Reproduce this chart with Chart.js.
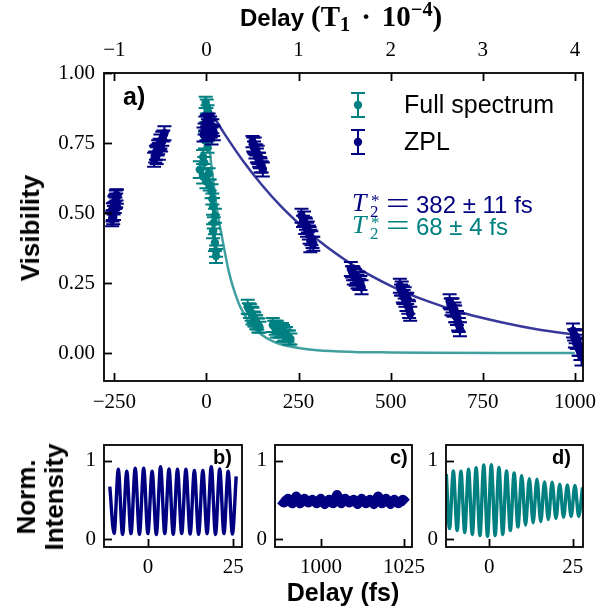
<!DOCTYPE html>
<html><head><meta charset="utf-8">
<script src="https://cdn.jsdelivr.net/npm/chart.js@4.4.1/dist/chart.umd.min.js"></script>
<style>
html,body{margin:0;padding:0;background:#fff;}
#wrap{position:relative;width:602px;height:609px;overflow:hidden;background:#fff;}
canvas{position:absolute;left:0;top:0;}
.t{position:absolute;white-space:nowrap;line-height:1;color:#000;}
.sans{font-family:"Liberation Sans",Arial,sans-serif;}
.serif{font-family:"Liberation Serif","Times New Roman",serif;}
.b{font-weight:bold;}
.sb{font-size:0.7em;position:relative;top:0.25em;}
.sp{font-size:0.7em;position:relative;top:-0.5em;}
.eq{transform:scaleX(1.35);transform-origin:left center;}
</style></head>
<body><div id="wrap">
<canvas id="cMain" width="602" height="609" style="width:602px;height:609px"></canvas>
<canvas id="cB" width="602" height="609" style="width:602px;height:609px"></canvas>
<canvas id="cC" width="602" height="609" style="width:602px;height:609px"></canvas>
<canvas id="cD" width="602" height="609" style="width:602px;height:609px"></canvas>

<div class="t sans b" style="left:240px;top:6px;font-size:24px;">Delay</div>
<div class="t serif b" style="left:311px;top:2px;font-size:29px;">(T<span class="sb">1</span><span style="margin:0 0.38em;">·</span>10<span class="sp">−4</span>)</div>
<div class="t sans b" style="left:30px;top:228px;transform:translate(-50%,-50%) rotate(-90deg);font-size:26px;">Visibility</div>
<div class="t sans b" style="left:123px;top:84px;font-size:25px;">a)</div>
<div class="t sans" style="left:404px;top:92px;font-size:25px;">Full spectrum</div>
<div class="t sans" style="left:404px;top:129px;font-size:25px;">ZPL</div>

<div class="t serif" style="left:352px;top:190px;font-size:26px;font-style:italic;color:#000080;">T</div>
<div class="t serif" style="left:371px;top:192px;font-size:17px;color:#000080;">*</div>
<div class="t serif" style="left:370px;top:203px;font-size:17px;color:#000080;">2</div>
<div class="t serif eq" style="left:386px;top:188px;font-size:31px;color:#000080;">=</div>
<div class="t sans" style="left:416px;top:193px;font-size:24px;color:#000080;">382 ± 11 fs</div>

<div class="t serif" style="left:352px;top:212px;font-size:26px;font-style:italic;color:#008080;">T</div>
<div class="t serif" style="left:371px;top:214px;font-size:17px;color:#008080;">*</div>
<div class="t serif" style="left:370px;top:225px;font-size:17px;color:#008080;">2</div>
<div class="t serif eq" style="left:386px;top:210px;font-size:31px;color:#008080;">=</div>
<div class="t sans" style="left:416px;top:215px;font-size:24px;color:#008080;">68 ± 4 fs</div>

<div class="t sans b" style="left:40px;top:497px;transform:translate(-50%,-50%) rotate(-90deg);font-size:26px;line-height:28px;text-align:center;">Norm.<br>Intensity</div>
<div class="t sans b" style="left:213px;top:447px;font-size:20px;">b)</div>
<div class="t sans b" style="left:390px;top:447px;font-size:20px;">c)</div>
<div class="t sans b" style="left:552px;top:447px;font-size:20px;">d)</div>
<div class="t sans b" style="left:343px;top:580px;transform:translateX(-50%);font-size:25px;">Delay (fs)</div>
</div>
<script>
// ---------------- DATA ----------------
const xTicksMain = [-250, 0, 250, 500, 750, 1000];
const yTicksMain = [0, 0.25, 0.5, 0.75, 1.0];
const topTicks = [-1, 0, 1, 2, 3, 4];
const fsPerTopUnit = 250;

const zplX = [
 -256,-255,-254,-253,-252,-251,-250,-249,-248,-247,-246,-245,-244,-243,
 -142,-139,-137,-135,-133,-131,-129,-127,-125,-123,-120,-117,-114,
 -8,-5,-3,0,2,4,6,8,10,12,14,16,18,20,
 125,127,129,131,133,135,137,139,141,143,145,147,150,153,
 258,262,265,268,270,273,275,278,280,282,285,288,290,
 392,395,398,400,403,405,408,410,413,415,418,421,
 525,528,530,533,535,538,540,543,545,548,550,553,
 660,663,665,668,670,673,675,678,680,683,685,688,
 995,998,1000,1002,1005,1007,1010,1012,1015,1018];
const zplY = [
 0.478,0.490,0.505,0.485,0.515,0.500,0.530,0.520,0.540,0.535,0.550,0.545,0.565,0.558,
 0.690,0.700,0.715,0.705,0.725,0.735,0.720,0.745,0.755,0.740,0.765,0.775,0.785,
 0.780,0.800,0.820,0.790,0.830,0.810,0.835,0.800,0.820,0.790,0.775,0.810,0.795,0.785,
 0.755,0.745,0.735,0.740,0.720,0.725,0.705,0.710,0.695,0.690,0.680,0.670,0.665,0.655,
 0.490,0.470,0.480,0.455,0.460,0.440,0.450,0.430,0.420,0.400,0.410,0.395,0.390,
 0.300,0.290,0.285,0.275,0.280,0.265,0.270,0.255,0.260,0.245,0.250,0.235,
 0.240,0.225,0.230,0.210,0.200,0.215,0.190,0.180,0.195,0.165,0.155,0.140,
 0.185,0.175,0.165,0.170,0.150,0.155,0.140,0.130,0.125,0.110,0.100,0.085,
 0.080,0.065,0.050,0.060,0.035,0.040,0.020,0.010,0.000,-0.015];
const zplErr = [
 0.025,0.020,0.030,0.025,0.020,0.025,0.030,0.020,0.025,0.020,0.030,0.025,0.020,0.025,
 0.025,0.020,0.025,0.030,0.020,0.025,0.030,0.020,0.025,0.020,0.025,0.020,0.025,
 0.025,0.020,0.025,0.030,0.020,0.025,0.020,0.030,0.025,0.020,0.030,0.025,0.020,0.025,
 0.020,0.025,0.020,0.030,0.025,0.020,0.025,0.030,0.020,0.025,0.020,0.025,0.020,0.025,
 0.025,0.020,0.025,0.030,0.020,0.025,0.020,0.025,0.030,0.040,0.025,0.020,0.025,
 0.025,0.020,0.025,0.030,0.020,0.025,0.020,0.025,0.030,0.020,0.025,0.025,
 0.025,0.020,0.025,0.030,0.025,0.020,0.025,0.030,0.020,0.025,0.030,0.025,
 0.025,0.020,0.030,0.025,0.020,0.025,0.030,0.020,0.025,0.030,0.025,0.025,
 0.025,0.020,0.030,0.025,0.020,0.025,0.030,0.020,0.025,0.030];

const fullX = [
 -2,1,3,0,-4,3,-9,-6,-18,-9,6,0,9,14,16,18,23,20,18,23,26,26,
 112,115,118,120,123,125,128,130,133,135,138,141,144,
 180,184,188,191,195,198,202,205,208,212,216,220,224,228];
const fullY = [
 0.895,0.880,0.865,0.850,0.760,0.735,0.700,0.680,0.655,0.630,0.640,0.613,0.600,0.578,0.550,0.524,0.490,0.465,0.435,0.394,0.364,0.346,
 0.165,0.158,0.150,0.145,0.140,0.132,0.128,0.120,0.115,0.110,0.104,0.098,0.092,
 0.100,0.095,0.090,0.085,0.088,0.080,0.075,0.082,0.070,0.065,0.068,0.060,0.055,0.050];
const fullErr = [
 0.020,0.025,0.020,0.025,0.030,0.020,0.025,0.020,0.030,0.025,0.020,0.025,0.020,0.025,0.020,0.030,0.025,0.020,0.025,0.030,0.020,0.025,
 0.025,0.020,0.025,0.020,0.025,0.030,0.020,0.025,0.020,0.025,0.020,0.025,0.020,
 0.025,0.020,0.025,0.030,0.020,0.025,0.020,0.025,0.030,0.020,0.025,0.020,0.025,0.020];

const zplFitX = [0, 25, 50, 100, 150, 200, 250, 300, 400, 500, 600, 700, 800, 900, 1000];
const zplFitY = [0.890, 0.833, 0.781, 0.685, 0.601, 0.527, 0.463, 0.406, 0.312, 0.240, 0.185, 0.142, 0.110, 0.084, 0.065];
const fullFitX = [0, 10, 20, 30, 40, 50, 60, 70, 80, 90, 100, 125, 150, 175, 200, 250, 300, 400, 500, 600, 800, 1000];
const fullFitY = [0.860, 0.710, 0.600, 0.500, 0.430, 0.360, 0.295, 0.245, 0.205, 0.170, 0.145, 0.095, 0.065, 0.045, 0.032, 0.018, 0.010, 0.004, 0.002, 0.001, 0.000, 0.000];

// subplot b (ZPL interferogram near zero delay)
const bX = [-11.2,-9.94,-8.70,-7.46,-6.22,-4.98,-3.74,-2.50,-1.26,-0.02,1.22,2.46,3.70,4.94,6.18,7.42,8.66,9.90,11.14,12.38,13.62,14.86,16.10,17.34,18.58,19.82,21.06,22.30,23.54,24.78,25.90];
const bY = [0.67,0.07,0.89,0.06,0.865,0.07,0.905,0.06,0.905,0.07,0.865,0.06,0.925,0.07,0.895,0.06,0.89,0.07,0.89,0.065,0.875,0.06,0.875,0.07,0.925,0.06,0.895,0.07,0.865,0.065,0.80];
// subplot c (ZPL interferogram near 1000 fs)
const cX = [987.6,988.8,990.0,991.3,992.5,993.7,995.0,996.2,997.4,998.7,999.9,1001.1,1002.4,1003.6,1004.8,1006.1,1007.3,1008.5,1009.8,1011.0,1012.2,1013.5,1014.7,1015.9,1017.2,1018.4,1019.6,1020.9,1022.1,1023.3,1024.6,1025.8];
const cY = [0.50,0.46,0.52,0.45,0.55,0.45,0.52,0.46,0.51,0.45,0.52,0.44,0.51,0.45,0.57,0.45,0.52,0.46,0.51,0.44,0.52,0.45,0.51,0.44,0.55,0.45,0.52,0.44,0.51,0.45,0.51,0.46];
// subplot d (full spectrum interferogram near zero delay)
const dX = [-12.9,-11.94,-10.80,-9.66,-8.52,-7.38,-6.24,-5.10,-3.96,-2.82,-1.68,-0.54,0.60,1.74,2.88,4.02,5.16,6.30,7.44,8.58,9.72,10.86,12.00,13.14,14.28,15.42,16.56,17.70,18.84,19.98,21.12,22.26,23.40,24.54,25.68,26.82,27.96];
const dY = [0.83,0.135,0.87,0.11,0.865,0.085,0.89,0.06,0.91,0.045,0.945,0.035,0.95,0.045,0.915,0.06,0.87,0.11,0.845,0.155,0.81,0.18,0.77,0.21,0.765,0.225,0.73,0.25,0.725,0.265,0.70,0.28,0.69,0.29,0.685,0.29,0.66];
const subXTicksB = [0, 25];
const subXTicksC = [1000, 1025];
const subXTicksD = [0, 25];
const subYTicks = [0, 1];

// ---------------- STYLE / HELPERS ----------------
const NAVY = '#000080', TEAL = '#008080';
const SERIF = "'Liberation Serif','Times New Roman',serif";
const pts = (xs, ys) => xs.map((x, i) => ({x: x, y: ys[i]}));
const minus = v => String(v).replace('-', '\u2212');

const frameTicks = {
  id: 'frameTicks',
  afterDraw(chart) {
    const {ctx, chartArea: a} = chart;
    ctx.save();
    ctx.strokeStyle = '#000'; ctx.lineWidth = 1.8; ctx.lineCap = 'butt';
    const L = 8;
    Object.values(chart.scales).forEach(s => {
      s.ticks.forEach(t => {
        const p = Math.round(s.getPixelForValue(t.value)) + 0.5;
        ctx.beginPath();
        if (s.position === 'left') { ctx.moveTo(a.left, p); ctx.lineTo(a.left + L, p); }
        else if (s.position === 'bottom') { ctx.moveTo(p, a.bottom); ctx.lineTo(p, a.bottom - L); }
        else if (s.position === 'top') { ctx.moveTo(p, a.top); ctx.lineTo(p, a.top + L); }
        ctx.stroke();
      });
    });
    ctx.strokeRect(a.left, a.top, a.right - a.left, a.bottom - a.top);
    ctx.restore();
  }
};

const errorBars = {
  id: 'errorBars',
  beforeDatasetDraw(chart, args) {
    const ds = chart.data.datasets[args.index];
    if (!ds.errors) return;
    const xs = chart.scales.x, ys = chart.scales.y, ctx = chart.ctx, a = chart.chartArea;
    ctx.save();
    ctx.beginPath(); ctx.rect(a.left, a.top, a.right - a.left, a.bottom - a.top); ctx.clip();
    ctx.strokeStyle = ds.borderColor; ctx.lineWidth = 2;
    const cap = 7;
    ds.data.forEach((d, i) => {
      const e = ds.errors[i];
      const px = xs.getPixelForValue(d.x);
      const y1 = ys.getPixelForValue(d.y - e), y2 = ys.getPixelForValue(d.y + e);
      ctx.beginPath();
      ctx.moveTo(px, y1); ctx.lineTo(px, y2);
      ctx.moveTo(px - cap, y1); ctx.lineTo(px + cap, y1);
      ctx.moveTo(px - cap, y2); ctx.lineTo(px + cap, y2);
      ctx.stroke();
    });
    ctx.restore();
  }
};

const legendGlyphs = {
  id: 'legendGlyphs',
  afterDraw(chart) {
    const ctx = chart.ctx;
    const items = [[chart.data.datasets[1].borderColor, 105], [chart.data.datasets[0].borderColor, 142]];
    ctx.save();
    items.forEach(([c, y]) => {
      const x = 358;
      ctx.strokeStyle = c; ctx.fillStyle = c; ctx.lineWidth = 2;
      ctx.beginPath();
      ctx.moveTo(x, y - 12); ctx.lineTo(x, y + 12);
      ctx.moveTo(x - 7, y - 12); ctx.lineTo(x + 7, y - 12);
      ctx.moveTo(x - 7, y + 12); ctx.lineTo(x + 7, y + 12);
      ctx.stroke();
      ctx.beginPath(); ctx.arc(x, y, 4.2, 0, Math.PI * 2); ctx.fill();
    });
    ctx.restore();
  }
};

function axis(pos, min, max, tickVals, fmt, padding, size) {
  return {
    type: 'linear', position: pos, min: min, max: max,
    afterBuildTicks: s => { s.ticks = tickVals.map(v => ({value: v})); },
    afterFit: s => {
      if (pos === 'left' || pos === 'right') s.width = size; else s.height = size;
      s.paddingLeft = 0; s.paddingRight = 0; s.paddingTop = 0; s.paddingBottom = 0;
    },
    grid: {display: false, drawTicks: false},
    border: {display: false},
    ticks: {autoSkip: false, maxRotation: 0, minRotation: 0, padding: padding, color: '#000',
            font: {family: SERIF, size: 21}, callback: fmt}
  };
}

Chart.defaults.font.family = SERIF;

const commonOpts = (padding) => ({
  responsive: false, animation: false, devicePixelRatio: 1,
  layout: {padding: padding},
  plugins: {legend: {display: false}, tooltip: {enabled: false}}
});

// ---------------- MAIN CHART ----------------
const xMin = -278, xMax = 1022;
new Chart(document.getElementById('cMain'), {
  type: 'scatter',
  data: {datasets: [
    {label: 'ZPL', data: pts(zplX, zplY), errors: zplErr, borderColor: NAVY, backgroundColor: NAVY,
     pointRadius: 4.2, pointBorderWidth: 0, showLine: false, order: 0, clip: 0},
    {label: 'Full spectrum', data: pts(fullX, fullY), errors: fullErr, borderColor: TEAL, backgroundColor: TEAL,
     pointRadius: 4.2, pointBorderWidth: 0, showLine: false, order: 1, clip: 0},
    {label: 'ZPL fit', data: pts(zplFitX, zplFitY), borderColor: 'rgba(0,0,128,0.78)', borderWidth: 2.5,
     pointRadius: 0, showLine: true, cubicInterpolationMode: 'monotone', order: 2, clip: 0},
    {label: 'Full fit', data: pts(fullFitX, fullFitY), borderColor: 'rgba(0,128,128,0.75)', borderWidth: 2.5,
     pointRadius: 0, showLine: true, cubicInterpolationMode: 'monotone', order: 3, clip: 0}
  ]},
  options: Object.assign(commonOpts({left: 4, right: 19, top: 3, bottom: 188}), {
    scales: {
      x: axis('bottom', xMin, xMax, xTicksMain, v => minus(v), 9, 40),
      x2: axis('top', xMin / fsPerTopUnit, xMax / fsPerTopUnit, topTicks, v => minus(v), 10, 70),
      y: axis('left', -0.1, 1.0, yTicksMain, v => Number(v).toFixed(2), 9, 100)
    }
  }),
  plugins: [errorBars, frameTicks, legendGlyphs]
});

// ---------------- SUBPLOTS ----------------
function sub(id, xs, ys, color, xmin, xmax, xt, pad, lw) {
  new Chart(document.getElementById(id), {
    type: 'scatter',
    data: {datasets: [{data: pts(xs, ys), borderColor: color, backgroundColor: color, borderWidth: lw,
      pointRadius: 0, showLine: true, cubicInterpolationMode: 'monotone', clip: 0}]},
    options: Object.assign(commonOpts(pad), {
      scales: {
        x: axis('bottom', xmin, xmax, xt, v => minus(v), 8, 40),
        y: axis('left', -0.1, 1.2, subYTicks, v => String(v), 8, 40)
      }
    }),
    plugins: [frameTicks]
  });
}
sub('cB', bX, bY, NAVY, -12.9, 27.6, subXTicksB, {left: 64, right: 360, top: 445, bottom: 22}, 3.4);
sub('cC', cX, cY, NAVY, 986.1, 1027.4, subXTicksC, {left: 235, right: 190, top: 445, bottom: 22}, 9);
sub('cD', dX, dY, TEAL, -13.0, 28.1, subXTicksD, {left: 406, right: 19, top: 445, bottom: 22}, 3.4);
</script>
</body></html>
